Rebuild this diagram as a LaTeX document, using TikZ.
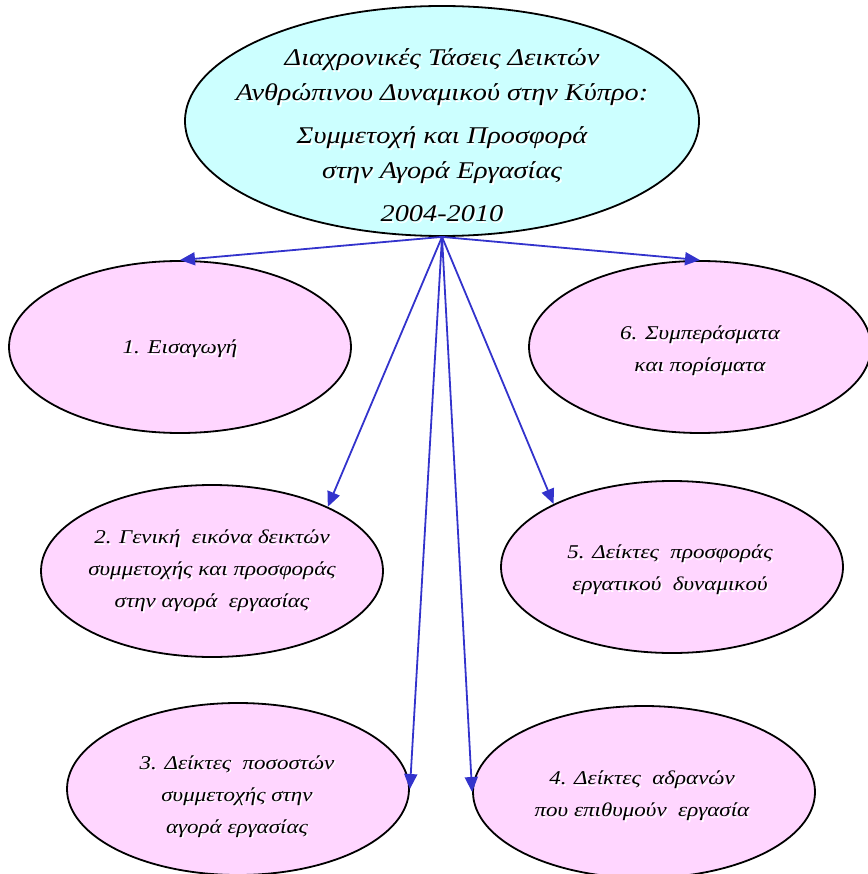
\documentclass[tikz,border=0pt]{standalone}
\usepackage{fontspec}
\setmainfont{Liberation Serif}[FakeStretch=1.18]
\usetikzlibrary{shapes.geometric,arrows.meta}
\definecolor{topfill}{RGB}{204,255,255}
\definecolor{subfill}{RGB}{255,214,255}
\definecolor{arrowblue}{RGB}{51,51,204}
\newcommand\shd[1]{\makebox[0pt][l]{\hspace{1.6pt}\raisebox{-1.6pt}{\textcolor{white}{#1}}}#1}
\tikzset{
  oval/.style={ellipse, draw=black, line width=1.8pt, inner sep=0pt},
  topoval/.style={oval, fill=topfill, minimum width=514pt, minimum height=230pt},
  suboval/.style={oval, fill=subfill, minimum width=342pt, minimum height=172pt},
  toptxt/.style={align=center, inner sep=0pt, font=\itshape\fontsize{24}{35}\selectfont},
  subtxt/.style={align=center, inner sep=0pt, font=\itshape\fontsize{19.5}{32}\selectfont},
  link/.style={draw=arrowblue, line width=1.8pt, -{Triangle[length=15pt,width=13pt]}}
}
\begin{document}
\begin{tikzpicture}[x=1pt,y=-1pt]
\useasboundingbox (0,0) rectangle (867,874);
\node[topoval] (top) at (442,121) {};
\node[toptxt] (t0) at (442,136) {\shd{Διαχρονικές Τάσεις Δεικτών}\\ \shd{Ανθρώπινου Δυναμικού στην Κύπρο:}\\[8pt] \shd{Συμμετοχή και Προσφορά}\\ \shd{στην Αγορά Εργασίας}\\[8pt] \shd{2004-2010}};

\node[suboval] (e1) at (180,347) {};
\node[subtxt] (t1) at (180,350) {\shd{1. Εισαγωγή}};

\node[suboval] (e6) at (700,347) {};
\node[subtxt] (t6) at (700,352) {\shd{6. Συμπεράσματα}\\ \shd{και πορίσματα}};

\node[suboval] (e2) at (212,571) {};
\node[subtxt] (t2) at (212,572) {\shd{2. Γενική \ εικόνα δεικτών}\\ \shd{συμμετοχής και προσφοράς}\\ \shd{στην αγορά \ εργασίας}};

\node[suboval] (e5) at (672,567) {};
\node[subtxt] (t5) at (670,571) {\shd{5. Δείκτες \ προσφοράς}\\ \shd{εργατικού \ δυναμικού}};

\node[suboval] (e3) at (238,789) {};
\node[subtxt] (t3) at (237,797) {\shd{3. Δείκτες \ ποσοστών}\\ \shd{συμμετοχής στην}\\ \shd{αγορά εργασίας}};

\node[suboval] (e4) at (644,792) {};
\node[subtxt] (t4) at (642,797) {\shd{4. Δείκτες \ αδρανών}\\ \shd{που επιθυμούν \ εργασία}};

\path[link] (top.south) -- (e1.north);
\path[link] (top.south) -- (e6.north);
\path[link] (top.south) -- (e2.29);
\path[link] (top.south) -- (e5.152);
\path[link] (top.south) -- (e3.east);
\path[link] (top.south) -- (e4.west);
\end{tikzpicture}
\end{document}
